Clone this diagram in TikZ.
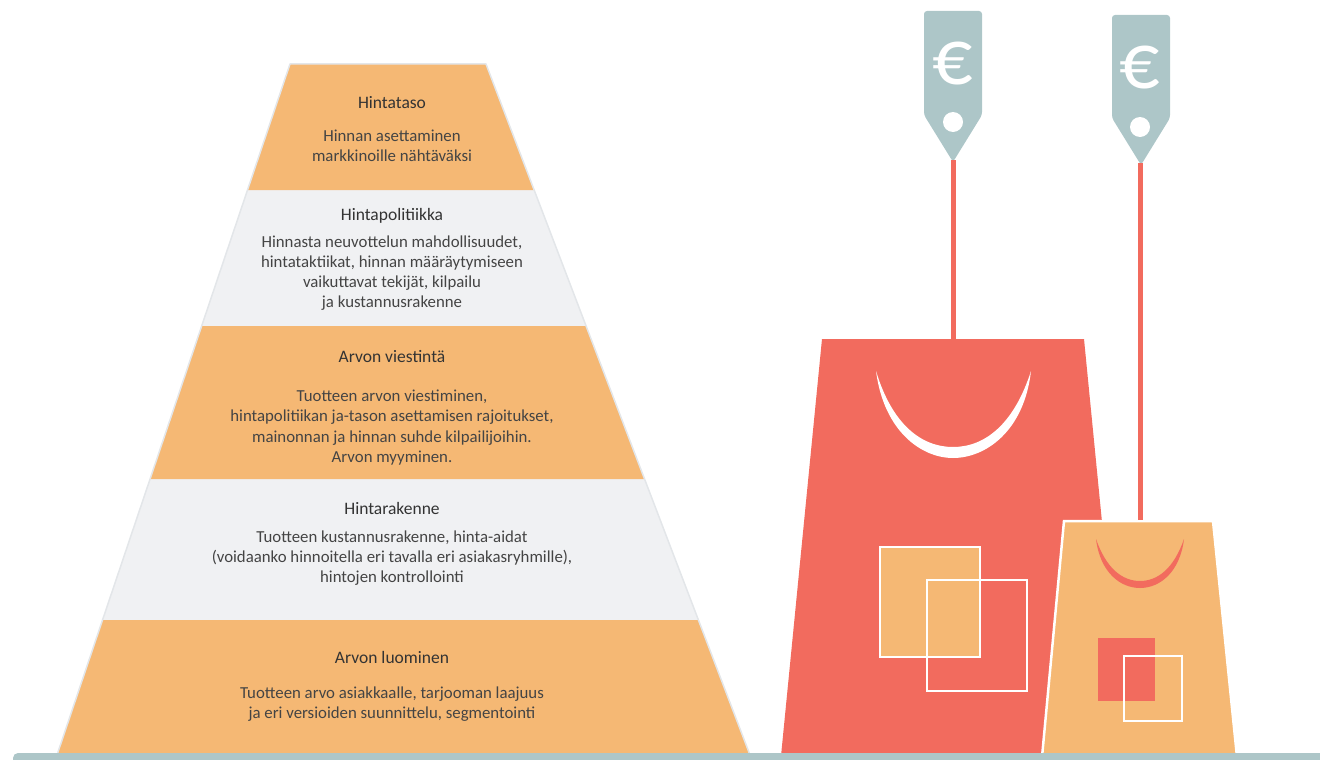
\documentclass[tikz,border=0pt]{standalone}
\usepackage{fontspec}
\setmainfont{Carlito}
\definecolor{bandorange}{HTML}{F5B874}
\definecolor{bandgray}{HTML}{F0F1F3}
\definecolor{edgegray}{HTML}{E3E6E9}
\definecolor{bagred}{HTML}{F26B5E}
\definecolor{tagblue}{HTML}{ADC6C8}
\definecolor{inkdark}{HTML}{333333}
\definecolor{inkbody}{HTML}{444444}
\tikzset{
  bandtitle/.style={text=inkdark, font=\fontsize{17.5}{20}\selectfont, align=center, inner sep=0},
  bandbody/.style={text=inkbody, font=\fontsize{16.8}{20.2}\selectfont, align=center, inner sep=0},
  pricetag/.style={fill=tagblue, rounded corners=3},
  euro/.style={text=white, font=\fontsize{80}{80}\selectfont, inner sep=0},
  tagstring/.style={draw=bagred, line width=5},
  whiteline/.style={draw=white, line width=2.5},
}
\begin{document}
\begin{tikzpicture}[x=1pt,y=-1pt]
\useasboundingbox (0,0) rectangle (1320,760);

% pyramid: light base, orange bands on top
\fill[bandgray] (290,64) -- (486,64) -- (750,755) -- (57,755) -- cycle;
\fill[bandorange] (290,64) -- (486,64) -- (534.1,190) -- (247.5,190) -- cycle;
\fill[bandorange] (201.7,326) -- (586.1,326) -- (644.6,479) -- (150.1,479) -- cycle;
\fill[bandorange] (102.5,620) -- (698.4,620) -- (750,755) -- (57,755) -- cycle;
\draw[edgegray, line width=1.5, line join=round] (290,64) -- (486,64) -- (750,755) -- (57,755) -- cycle;

% band texts
\node[bandtitle] (t1) at (392,103) {Hintataso};
\node[bandbody]  (b1) at (392,146) {Hinnan asettaminen\\markkinoille nähtäväksi};
\node[bandtitle] (t2) at (392,216) {Hintapolitiikka};
\node[bandbody]  (b2) at (392,273) {Hinnasta neuvottelun mahdollisuudet,\\hintataktiikat, hinnan määräytymiseen\\vaikuttavat tekijät, kilpailu\\ja kustannusrakenne};
\node[bandtitle] (t3) at (392,357) {Arvon viestintä};
\node[bandbody]  (b3) at (392,427.5) {Tuotteen arvon viestiminen,\\hintapolitiikan ja-tason asettamisen rajoitukset,\\mainonnan ja hinnan suhde kilpailijoihin.\\Arvon myyminen.};
\node[bandtitle] (t4) at (392,508) {Hintarakenne};
\node[bandbody]  (b4) at (392,558) {Tuotteen kustannusrakenne, hinta-aidat\\(voidaanko hinnoitella eri tavalla eri asiakasryhmille),\\hintojen kontrollointi};
\node[bandtitle] (t5) at (392,657) {Arvon luominen};
\node[bandbody]  (b5) at (392,704.5) {Tuotteen arvo asiakkaalle, tarjooman laajuus\\ja eri versioiden suunnittelu, segmentointi};

% large bag
\fill[bagred] (822,339) -- (1084,339) -- (1125,756) -- (781,756) -- cycle;
\coordinate (bigtop) at (953,339);
\fill[white] (876,371) .. controls (884,432) and (922,458) .. (953,458)
  .. controls (985,458) and (1024,432) .. (1031,371)
  .. controls (1014,424) and (985,447) .. (953,447)
  .. controls (921,447) and (892,424) .. (876,371) -- cycle;
\filldraw[fill=bandorange, whiteline] (880,547) rectangle (980,657);
\draw[whiteline] (927,580) rectangle (1027,691);

% small bag
\filldraw[fill=bandorange, whiteline, line join=miter] (1064,521) -- (1213,521) -- (1237,757) -- (1042,757) -- cycle;
\coordinate (smalltop) at (1140,520);
\fill[bagred] (1096,539) .. controls (1100,572) and (1120,588) .. (1140,588)
  .. controls (1160,588) and (1180,572) .. (1184,539)
  .. controls (1174,568) and (1158,581) .. (1140,581)
  .. controls (1122,581) and (1106,568) .. (1096,539) -- cycle;
\fill[bagred] (1098,638) rectangle (1155,701);
\draw[whiteline] (1124,656) rectangle (1182,721);

% price tags and their strings
\fill[pricetag] (924,115) -- (924,11) -- (982,11) -- (982,115) -- (953,162) -- cycle;
\coordinate (tip1) at (953,160);
\fill[white] (953,122) circle (10);
\node[euro] (e1) at (953,64) {€};
\fill[pricetag] (1112,118) -- (1112,15) -- (1170,15) -- (1170,118) -- (1141,165) -- cycle;
\coordinate (tip2) at (1140,163);
\fill[white] (1140,127) circle (10);
\node[euro] (e2) at (1140,68) {€};

\draw[tagstring] (tip1) -- (bigtop);
\draw[tagstring] (tip2) -- (smalltop);

% ground bar
\fill[tagblue, rounded corners=5] (13,753) rectangle (1335,772);
\end{tikzpicture}
\end{document}
